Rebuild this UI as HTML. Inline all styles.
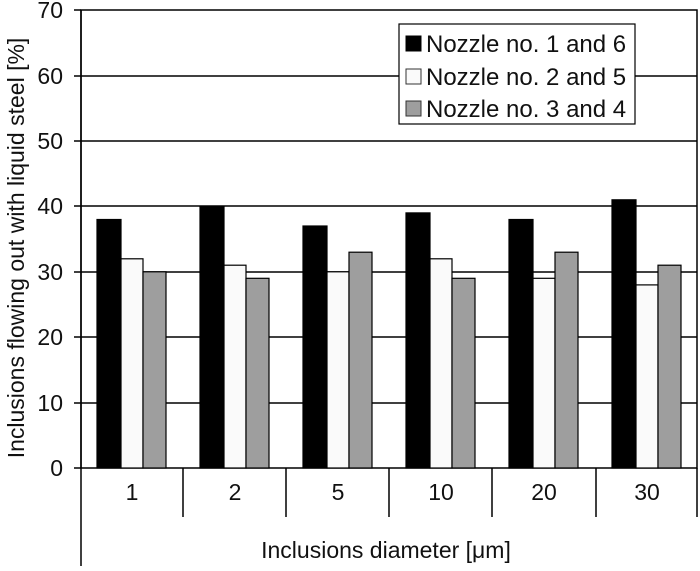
<!DOCTYPE html>
<html><head><style>body{margin:0;background:#fff}</style></head><body>
<svg width="700" height="566" xmlns="http://www.w3.org/2000/svg" font-family="Liberation Sans, sans-serif">
<rect width="700" height="566" fill="#fff"/>
<g stroke="#000" stroke-width="1.5">
<line x1="81" y1="76" x2="697" y2="76"/>
<line x1="81" y1="141" x2="697" y2="141"/>
<line x1="81" y1="206" x2="697" y2="206"/>
<line x1="81" y1="272" x2="697" y2="272"/>
<line x1="81" y1="337" x2="697" y2="337"/>
<line x1="81" y1="403" x2="697" y2="403"/>
</g>
<rect x="81" y="10" width="616" height="458" fill="none" stroke="#000" stroke-width="1.5"/>
<g stroke="#000" stroke-width="1.2">
<rect x="97" y="219.5" width="24" height="248.5" fill="#000"/><rect x="121" y="258.8" width="22" height="209.2" fill="#fafafa"/><rect x="143" y="271.8" width="23" height="196.2" fill="#9e9e9e"/>
<rect x="200" y="206.3" width="24" height="261.7" fill="#000"/><rect x="224" y="265.2" width="22" height="202.8" fill="#fafafa"/><rect x="246" y="278.3" width="23" height="189.7" fill="#9e9e9e"/>
<rect x="303" y="226" width="24" height="242" fill="#000"/><rect x="327" y="271.8" width="22" height="196.2" fill="#fafafa"/><rect x="349" y="252.2" width="23" height="215.8" fill="#9e9e9e"/>
<rect x="406" y="212.9" width="24" height="255.1" fill="#000"/><rect x="430" y="258.8" width="22" height="209.2" fill="#fafafa"/><rect x="452" y="278.3" width="23" height="189.7" fill="#9e9e9e"/>
<rect x="509" y="219.5" width="24" height="248.5" fill="#000"/><rect x="533" y="278.3" width="22" height="189.7" fill="#fafafa"/><rect x="555" y="252.2" width="23" height="215.8" fill="#9e9e9e"/>
<rect x="612" y="199.8" width="24" height="268.2" fill="#000"/><rect x="636" y="284.9" width="22" height="183.1" fill="#fafafa"/><rect x="658" y="265.2" width="23" height="202.8" fill="#9e9e9e"/>
</g>
<g stroke="#000" stroke-width="1.5">
<line x1="81" y1="10" x2="81" y2="566"/>
<line x1="74" y1="10" x2="81" y2="10"/><line x1="74" y1="76" x2="81" y2="76"/><line x1="74" y1="141" x2="81" y2="141"/><line x1="74" y1="206" x2="81" y2="206"/><line x1="74" y1="272" x2="81" y2="272"/><line x1="74" y1="337" x2="81" y2="337"/><line x1="74" y1="403" x2="81" y2="403"/><line x1="74" y1="468" x2="81" y2="468"/>
<line x1="183" y1="468" x2="183" y2="517"/><line x1="286" y1="468" x2="286" y2="517"/><line x1="389" y1="468" x2="389" y2="517"/><line x1="492" y1="468" x2="492" y2="517"/><line x1="596" y1="468" x2="596" y2="517"/><line x1="697" y1="468" x2="697" y2="517"/>
</g>
<g font-size="23" fill="#111" text-anchor="end">
<text x="63" y="18">70</text><text x="63" y="84">60</text><text x="63" y="149">50</text><text x="63" y="214">40</text><text x="63" y="280">30</text><text x="63" y="345">20</text><text x="63" y="411">10</text><text x="63" y="476">0</text>
</g>
<g font-size="23" fill="#111" text-anchor="middle">
<text x="132" y="500">1</text><text x="235" y="500">2</text><text x="338" y="500">5</text><text x="441" y="500">10</text><text x="544" y="500">20</text><text x="647" y="500">30</text>
<text x="386" y="558">Inclusions diameter [μm]</text>
<text transform="translate(24,248) rotate(-90)">Inclusions flowing out with liquid steel [%]</text>
</g>
<rect x="399" y="24" width="236" height="100" fill="#fff" stroke="#000" stroke-width="1.2"/>
<rect x="406" y="36" width="15" height="15" fill="#000" stroke="#000"/>
<rect x="406" y="69" width="15" height="15" fill="#fafafa" stroke="#333"/>
<rect x="406" y="101" width="15" height="15" fill="#9e9e9e" stroke="#333"/>
<g font-size="24" fill="#111">
<text x="426" y="52">Nozzle no. 1 and 6</text>
<text x="426" y="85">Nozzle no. 2 and 5</text>
<text x="426" y="117">Nozzle no. 3 and 4</text>
</g>
</svg>
</body></html>
